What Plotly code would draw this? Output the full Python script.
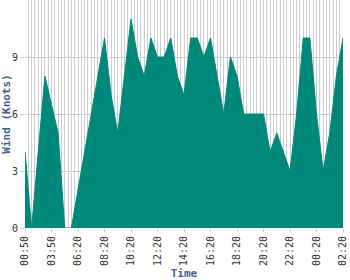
import plotly.graph_objects as go

# Wind speed (knots), one reading per category step
wind = [4, 0, 4, 8, 6.5, 5, 0, 0, 2, 4, 6, 8, 10, 7, 5, 8, 11, 9, 8, 10,
        9, 9, 10, 8, 7, 10, 10, 9, 10, 8, 6, 9, 8, 6, 6, 6, 6, 4, 5, 4,
        3, 6, 10, 10, 6, 3, 5, 8, 10]

tick_labels = ["00:50", "03:50", "06:20", "08:20", "10:20", "12:20", "14:20",
               "16:20", "18:20", "20:20", "22:20", "00:20", "02:20"]
y_ticks = [0, 3, 6, 9]

x = list(range(len(wind)))
tick_pos = x[::4]

TEAL = "#00897B"
GRID = "#cccccc"
MONO = "DejaVu Sans Mono"

fig = go.Figure(go.Scatter(
    x=x, y=wind, mode="lines", fill="tozeroy",
    fillcolor=TEAL, line=dict(color=TEAL, width=1),
    hoverinfo="skip",
))

fig.update_layout(
    width=350, height=280,
    margin=dict(l=25, r=7, t=0, b=52),
    paper_bgcolor="white", plot_bgcolor="white",
    showlegend=False,
    xaxis=dict(
        range=[0, len(wind) - 1],
        tickmode="array", tickvals=tick_pos, ticktext=tick_labels,
        tickangle=-90, ticks="outside", ticklen=3, tickcolor=GRID,
        tickfont=dict(family=MONO, size=10, color="#333333"),
        showgrid=True, gridcolor=GRID, gridwidth=1,
        minor=dict(tickmode="linear", tick0=0, dtick=0.5, showgrid=True,
                   gridcolor=GRID, gridwidth=1, ticks=""),
        zeroline=False, showline=False,
        title=dict(text="<b>Time</b>", standoff=4,
                   font=dict(family=MONO, size=11, color="#41628A")),
    ),
    yaxis=dict(
        range=[0, 12],
        tickmode="array", tickvals=y_ticks,
        ticks="outside", ticklen=4, tickcolor=GRID,
        tickfont=dict(family=MONO, size=10, color="#333333"),
        showgrid=True, gridcolor=GRID, gridwidth=1,
        zeroline=False, showline=False,
        title=dict(text="<b>Wind (Knots)</b>", standoff=2,
                   font=dict(family=MONO, size=11, color="#41628A")),
    ),
)

fig.write_html("out.html")
